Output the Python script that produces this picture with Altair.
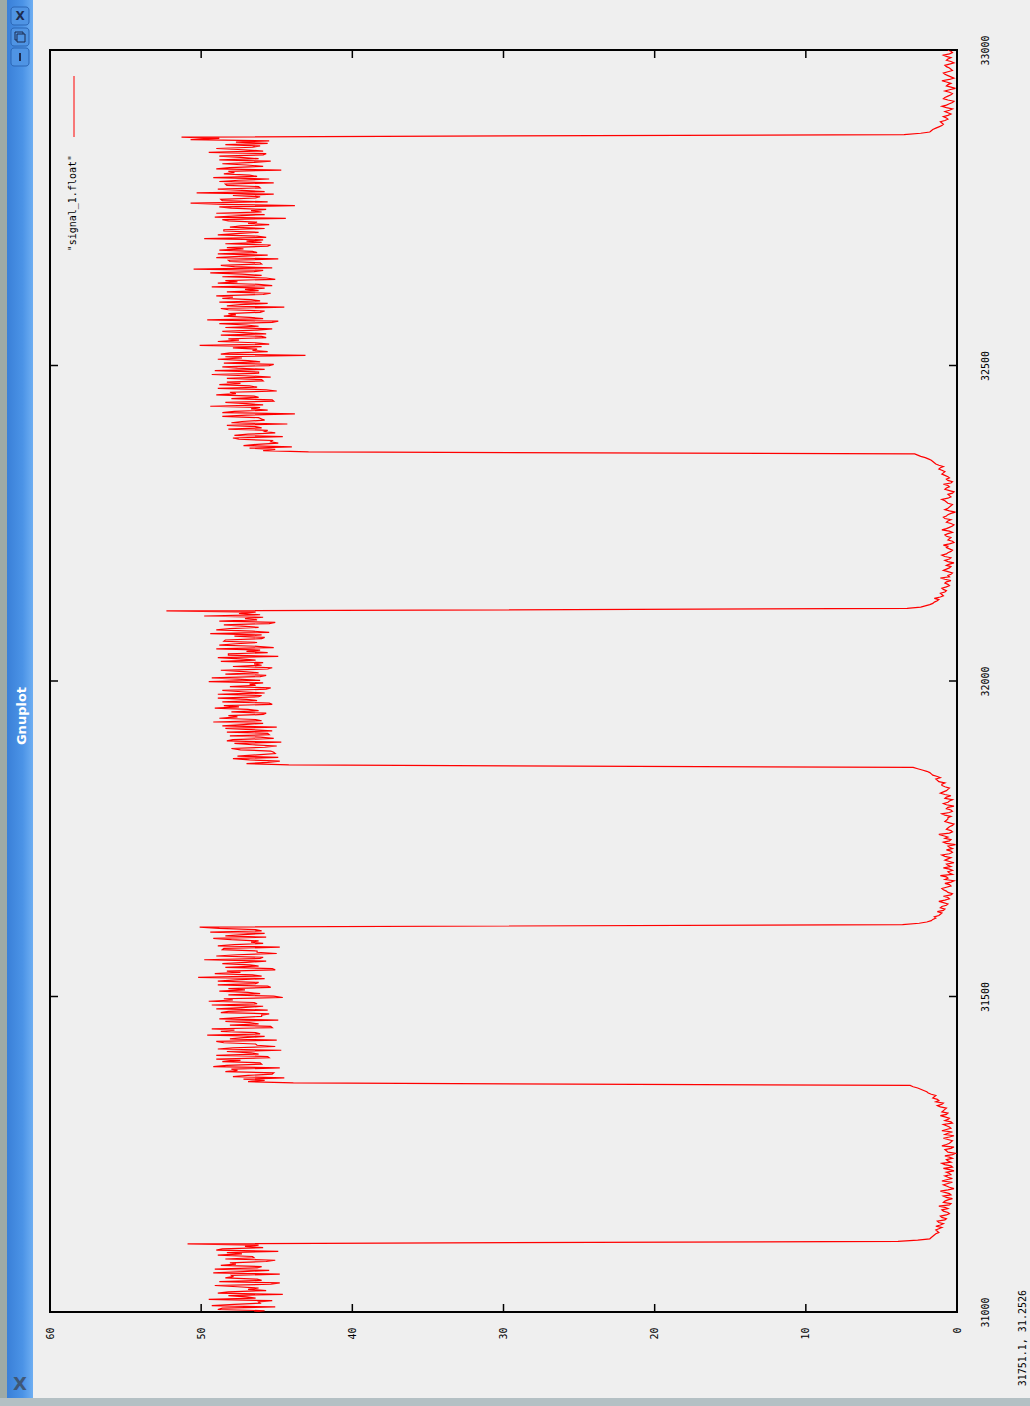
import altair as alt
import pandas as pd
import numpy as np

# ---- signal (sample index vs value) ----
seg_start = [31000, 31112, 31363, 31614, 31867, 32115, 32363, 32866]
seg_end = [31108, 31359, 31610, 31863, 32111, 32360, 32862, 33000]

# samples on even positions of each plateau
seg_a = [46.5, 48.9, 45.1, 47.8, 46.2, 49.5, 47.0, 44.6, 48.2, 46.9, 47.6, 45.4, 48.8, 46.3,
         47.9, 44.8, 47.2, 49.1, 46.0, 47.7, 45.7, 48.4, 46.6, 47.3, 44.9, 48.6, 47.1, 50.9]
seg_b = [3.9, 1.8, 1.6, 1.4, 1.3, 1.2, 1.4, 0.9, 1.3, 0.7, 1.1, 0.5, 0.9, 0.6, 1.2, 0.4, 0.8,
         0.3, 0.9, 0.5, 1.1, 0.2, 0.7, 0.6, 1.0, 0.3, 0.8, 0.5, 0.2, 0.9, 0.4, 1.0, 0.6, 0.3,
         0.8, 0.1, 0.7, 0.4, 1.0, 0.5, 0.3, 0.9, 0.2, 0.6, 1.0, 0.4, 0.7, 0.3, 0.8, 0.5, 1.1,
         0.6, 0.9, 0.7, 1.3, 0.9, 1.2, 1.6, 1.4, 1.9, 2.2, 2.6, 3.1]
seg_c = [43.9, 45.8, 44.5, 46.9, 45.2, 47.6, 44.8, 48.3, 46.1, 47.4, 45.5, 49.0, 46.7, 44.7,
         47.9, 46.3, 48.5, 45.0, 47.2, 49.6, 46.4, 47.8, 45.3, 48.1, 46.8, 44.9, 47.5, 46.0,
         48.7, 45.6, 47.3, 49.3, 46.5, 47.9, 44.6, 48.2, 46.9, 47.1, 45.4, 48.9, 46.2, 47.7,
         50.2, 46.6, 47.4, 45.1, 48.4, 46.8, 47.0, 49.8, 45.9, 47.6, 46.3, 48.6, 44.8, 47.8,
         46.7, 48.0, 45.7, 47.2, 49.4, 46.4, 50.1]
seg_d = [3.6, 2.0, 1.6, 1.5, 1.1, 1.3, 0.8, 1.0, 0.6, 1.2, 0.5, 0.9, 0.3, 0.7, 1.0, 0.4, 0.8,
         0.2, 0.6, 1.1, 0.5, 0.3, 0.9, 0.6, 0.2, 0.8, 0.4, 1.0, 0.3, 0.7, 0.5, 0.1, 0.9, 0.4,
         0.6, 1.2, 0.3, 0.7, 0.5, 0.2, 0.8, 0.6, 0.4, 1.0, 0.3, 0.7, 0.2, 0.9, 0.5, 0.8, 0.4,
         1.1, 0.7, 0.5, 1.0, 0.8, 1.3, 1.1, 1.6, 1.8, 2.3, 2.9]
seg_e = [44.2, 45.6, 46.8, 44.9, 46.3, 45.2, 47.4, 45.8, 46.6, 44.7, 47.9, 46.1, 45.5, 48.3,
         46.7, 45.0, 47.2, 49.2, 46.4, 47.6, 45.9, 48.0, 46.9, 47.5, 45.3, 48.6, 47.0, 46.2,
         48.9, 47.3, 45.7, 48.1, 46.8, 49.5, 47.6, 46.1, 48.4, 47.2, 45.6, 47.9, 46.5, 48.7,
         47.4, 44.9, 48.2, 47.0, 49.0, 46.3, 47.7, 48.5, 46.0, 47.8, 49.4, 46.6, 48.1, 47.3,
         45.5, 48.8, 47.1, 49.8, 47.5, 52.3]
seg_f = [3.3, 2.1, 1.6, 1.3, 1.5, 0.9, 1.1, 0.7, 1.0, 0.5, 0.8, 0.4, 1.1, 0.6, 0.3, 0.9, 0.5,
         0.7, 0.2, 0.8, 0.4, 1.0, 0.6, 0.3, 0.7, 0.9, 0.2, 0.6, 0.4, 0.8, 0.3, 1.0, 0.5, 0.2,
         0.7, 0.4, 0.9, 0.6, 0.1, 0.8, 0.5, 0.3, 0.7, 1.0, 0.4, 0.6, 0.2, 0.8, 0.5, 0.9, 0.3,
         0.7, 0.6, 1.0, 0.8, 1.2, 0.9, 1.4, 1.6, 1.9, 2.4, 2.8]
seg_g = [42.9, 45.1, 44.0, 46.3, 45.4, 47.5, 44.6, 46.9, 45.8, 48.2, 46.4, 44.3, 47.3, 46.0,
         48.6, 43.8, 47.8, 46.7, 49.4, 47.0, 45.2, 48.0, 46.5, 47.7, 45.0, 48.9, 46.8, 47.4,
         45.9, 48.3, 47.1, 46.2, 49.1, 47.6, 45.5, 48.5, 46.9, 47.3, 43.1, 48.1, 46.6, 47.9,
         50.1, 46.4, 47.5, 45.7, 48.7, 47.2, 46.3, 48.4, 47.0, 45.3, 49.6, 46.8, 47.7, 46.1,
         48.2, 44.5, 47.4, 48.8, 46.7, 47.9, 45.9, 48.3, 47.1, 49.3, 46.2, 47.6, 45.1, 48.6,
         47.3, 46.5, 50.5, 47.8, 46.0, 48.1, 44.9, 47.5, 48.9, 46.6, 47.2, 45.6, 48.4, 47.0,
         49.8, 46.3, 47.7, 48.5, 45.8, 47.4, 46.9, 48.2, 44.4, 47.6, 49.0, 46.7, 48.0, 43.8,
         50.7, 48.6, 46.4, 47.9, 50.3, 47.3, 46.1, 48.3, 45.2, 47.5, 49.2, 46.8, 47.8, 44.7,
         48.1, 47.0, 46.5, 48.8, 47.4, 45.9, 49.5, 47.2, 46.6, 48.4, 47.7, 50.7, 51.3]
seg_h = [3.5, 1.8, 1.6, 1.2, 0.9, 1.1, 0.6, 0.9, 0.4, 0.8, 0.3, 1.0, 0.5, 0.2, 0.9, 0.6, 0.3,
         0.8, 0.1, 0.7, 0.4, 1.0, 0.2, 0.6, 0.9, 0.3, 0.5, 0.8, 0.2, 0.7, 0.4, 0.9, 0.3, 0.6]

# samples on odd positions (between the ones above)
seg_a2 = [45.8, 48.6, 49.3, 46.1, 45.3, 46.4, 48.2, 48.9, 45.7, 46.2, 49.1, 44.8, 46.0, 48.4,
          48.0, 49.2, 45.5, 46.3, 48.7, 48.1, 45.1, 46.5, 48.9, 48.3, 49.0, 45.9, 46.2]
seg_b2 = [2.6, 1.7, 1.5, 1.2, 1.4, 1.0, 1.1, 1.2, 0.8, 1.0, 0.7, 0.6, 1.0, 0.8, 0.5, 0.9, 0.6,
          0.7, 0.4, 0.8, 0.6, 0.5, 0.9, 0.3, 0.7, 0.6, 0.4, 0.7, 0.5, 0.3, 0.8, 0.4, 0.7, 0.5,
          0.3, 0.6, 0.8, 0.2, 0.7, 0.4, 0.6, 0.5, 0.8, 0.3, 0.7, 0.5, 0.9, 0.4, 0.6, 0.8, 0.7,
          1.0, 0.8, 1.1, 1.0, 1.4, 1.3, 1.5, 1.7, 2.0, 2.4, 2.9]
seg_c2 = [46.9, 47.2, 47.9, 45.3, 48.4, 48.0, 49.2, 46.0, 48.6, 49.0, 45.6, 46.2, 48.3, 48.9,
          45.1, 46.4, 49.0, 48.1, 45.8, 46.1, 48.7, 49.3, 45.4, 46.2, 48.4, 48.8, 46.0, 45.5,
          48.2, 49.0, 45.9, 46.3, 49.5, 48.5, 45.2, 46.1, 48.8, 48.2, 45.6, 46.4, 48.9, 45.8,
          46.0, 49.1, 48.3, 45.3, 46.2, 48.6, 45.7, 46.1, 49.0, 45.0, 46.3, 48.5, 48.9, 45.9,
          46.2, 49.2, 48.4, 45.8, 46.0, 48.8]
seg_d2 = [2.5, 1.7, 1.4, 1.2, 1.0, 0.9, 1.1, 0.7, 0.9, 0.8, 0.6, 0.4, 0.6, 0.9, 0.7, 0.5, 0.4,
          0.8, 0.7, 0.3, 0.6, 0.5, 0.4, 0.7, 0.5, 0.6, 0.8, 0.5, 0.4, 0.3, 0.6, 0.7, 0.5, 0.8,
          0.9, 0.5, 0.4, 0.6, 0.3, 0.5, 0.7, 0.6, 0.8, 0.5, 0.4, 0.6, 0.7, 0.6, 0.3, 0.7, 0.8,
          0.9, 0.6, 0.8, 1.0, 1.2, 1.4, 1.3, 1.7, 2.0, 2.6]
seg_e2 = [47.0, 44.8, 47.9, 47.6, 45.1, 45.4, 48.0, 45.0, 47.8, 48.3, 45.2, 48.1, 45.6, 45.3,
          48.4, 48.6, 45.9, 46.0, 48.8, 48.2, 45.7, 46.2, 49.1, 48.5, 45.5, 46.3, 48.9, 46.0,
          45.8, 48.6, 45.4, 46.4, 45.9, 46.1, 49.3, 45.7, 46.2, 48.7, 45.3, 46.0, 45.9, 46.4,
          48.9, 48.2, 45.6, 46.1, 45.2, 48.8, 46.3, 48.4, 45.8, 46.0, 45.5, 49.0, 46.2, 48.5,
          45.1, 46.3, 45.9, 46.1, 46.4]
seg_f2 = [2.4, 1.8, 1.5, 1.2, 1.1, 1.0, 0.8, 0.9, 0.7, 0.6, 0.7, 0.8, 0.5, 0.4, 0.6, 0.7, 0.4,
          0.5, 0.6, 0.5, 0.8, 0.7, 0.4, 0.5, 0.6, 0.5, 0.3, 0.5, 0.7, 0.6, 0.5, 0.7, 0.3, 0.4,
          0.6, 0.8, 0.7, 0.4, 0.5, 0.6, 0.4, 0.6, 0.8, 0.6, 0.5, 0.3, 0.5, 0.7, 0.6, 0.4, 0.6,
          0.5, 0.8, 0.9, 1.0, 1.1, 1.2, 1.5, 1.7, 2.1, 2.6]
seg_g2 = [45.9, 46.8, 47.2, 44.9, 45.3, 47.9, 47.8, 45.1, 45.6, 46.0, 48.3, 48.0, 45.8, 46.2,
          47.0, 48.6, 45.6, 46.1, 45.9, 48.4, 45.3, 46.2, 49.0, 48.1, 45.7, 46.3, 48.8, 48.3,
          46.0, 45.4, 49.3, 46.2, 45.8, 48.6, 45.2, 46.1, 48.9, 48.4, 48.7, 45.6, 46.3, 46.0,
          45.5, 48.9, 48.2, 46.0, 45.7, 48.6, 45.3, 46.2, 48.8, 44.9, 45.9, 48.5, 48.2, 45.8,
          48.7, 48.3, 45.6, 46.1, 48.6, 49.0, 45.4, 46.2, 45.8, 45.3, 48.9, 48.4, 45.7, 46.0,
          49.4, 45.9, 45.3, 48.7, 46.1, 48.2, 49.0, 45.6, 46.3, 48.8, 48.3, 45.4, 46.0, 45.9,
          45.7, 48.9, 46.2, 48.5, 48.1, 45.5, 46.3, 48.6, 49.1, 45.8, 46.0, 45.7, 48.8, 48.5,
          45.6, 48.7, 46.1, 45.2, 45.8, 48.9, 46.2, 48.4, 48.8, 45.5, 46.3, 48.5, 48.2, 49.0,
          45.9, 48.6, 45.4, 46.2, 48.8, 45.7, 45.9, 49.0, 46.1, 45.6, 45.5, 48.8]
seg_h2 = [2.4, 1.7, 1.4, 1.0, 1.0, 0.8, 0.7, 0.6, 0.6, 0.5, 0.7, 0.7, 0.3, 0.6, 0.8, 0.4, 0.5,
          0.5, 0.4, 0.6, 0.7, 0.5, 0.4, 0.8, 0.6, 0.4, 0.7, 0.5, 0.4, 0.6, 0.7, 0.5, 0.4]

seg_even = [seg_a, seg_b, seg_c, seg_d, seg_e, seg_f, seg_g, seg_h]
seg_odd = [seg_a2, seg_b2, seg_c2, seg_d2, seg_e2, seg_f2, seg_g2, seg_h2]

value_ticks = [0, 10, 20, 30, 40, 50, 60]
index_ticks = [31000, 31500, 32000, 32500, 33000]
legend_label = '"signal_1.float"'
status_label = "31751.1,  31.2526"
window_title = "Gnuplot"


def weave(a, b):
    out = []
    for i, v in enumerate(a):
        out.append(v)
        if i < len(b) and i < len(a) - 1:
            out.append(b[i])
    return out


rows = []
for s, e, ev, od in zip(seg_start, seg_end, seg_even, seg_odd):
    vals = weave(ev, od)
    idx = np.linspace(s, e, len(vals))
    for i, v in zip(idx, vals):
        rows.append({"idx": float(i), "val": float(v)})
df = pd.DataFrame(rows)

W, H = 907, 1262
PAD = {"left": 50, "top": 50, "right": 73, "bottom": 94}

xscale = alt.Scale(domain=[0, 60], reverse=True, nice=False, zero=False)
yscale = alt.Scale(domain=[31000, 33000], nice=False, zero=False)

one = pd.DataFrame({"k": [0]})


def deco_rect(x, x2, y, y2, **kw):
    return alt.Chart(one).mark_rect(**kw).encode(
        x=alt.value(x), x2=alt.value(x2), y=alt.value(y), y2=alt.value(y2))


def deco_text(x, y, txt, **kw):
    return alt.Chart(one).mark_text(text=txt, **kw).encode(x=alt.value(x), y=alt.value(y))


# window chrome (absolute page coordinates minus 50 px padding)
grad = alt.LinearGradient(
    gradient="linear", x1=0, x2=1, y1=0, y2=0,
    stops=[alt.GradientStop(color="#3a80d8", offset=0),
           alt.GradientStop(color="#4b93e6", offset=0.6),
           alt.GradientStop(color="#6eaef2", offset=1)])
chrome = [
    deco_rect(-50, -43, -50, 1356, color="#9eaaa6"),
    deco_rect(-43, -17, -50, 1348, fill=grad),
    deco_rect(-50, 980, 1348, 1356, color="#b4c0c4"),
    deco_rect(-39, -21, -43, -25, fill="#4f94e4", stroke="#2c66b5", strokeWidth=1, cornerRadius=3),
    deco_rect(-39, -21, -22, -4, fill="#4f94e4", stroke="#2c66b5", strokeWidth=1, cornerRadius=3),
    deco_rect(-39, -21, -2, 16, fill="#4f94e4", stroke="#2c66b5", strokeWidth=1, cornerRadius=3),
    deco_text(-30, -34, "X", font="DejaVu Sans", fontSize=12, fontWeight="bold", color="#1d2b4f"),
    deco_rect(-35, -27, -18, -10, fill="#4f94e4", stroke="#1d2b4f", strokeWidth=1),
    deco_rect(-33, -25, -16, -8, fill="#4f94e4", stroke="#1d2b4f", strokeWidth=1),
    deco_rect(-31, -29, 3, 11, color="#1d2b4f"),
    deco_text(-28, 666, window_title, font="DejaVu Sans", fontSize=13, fontWeight="bold",
              color="white", angle=270, align="center", baseline="middle"),
    deco_text(-30, 1335, "X", font="DejaVu Sans", fontSize=18, fontWeight="bold",
              color="#3d4a5c", opacity=0.8),
]

signal = alt.Chart(df).mark_line(color="#ff0000", strokeWidth=1.2, clip=True).encode(
    x=alt.X("val:Q", scale=xscale,
            axis=alt.Axis(values=value_ticks, orient="bottom", title=None, grid=False,
                          ticks=False, domain=False, labelAngle=270, labelAlign="right",
                          labelBaseline="middle", labelPadding=15, labelFlush=False,
                          labelOverlap=False, labelFont="DejaVu Sans Mono", labelFontSize=10,
                          labelColor="black", format="d")),
    y=alt.Y("idx:Q", scale=yscale,
            axis=alt.Axis(values=index_ticks, orient="right", title=None, grid=False,
                          ticks=False, domain=False, labelAngle=270, labelAlign="center",
                          labelBaseline="middle", labelPadding=28, labelFlush=False,
                          labelOverlap=False, labelFont="DejaVu Sans Mono", labelFontSize=10,
                          labelColor="black", format="d")),
    order=alt.Order("idx:Q"),
)

vt = pd.DataFrame({"v": value_ticks})
it = pd.DataFrame({"i": index_ticks})
tick_style = dict(color="black", strokeWidth=1.5)
ticks = [
    alt.Chart(vt).mark_rule(**tick_style).encode(
        x=alt.X("v:Q", scale=xscale), y=alt.value(H), y2=alt.value(H - 8)),
    alt.Chart(vt).mark_rule(**tick_style).encode(
        x=alt.X("v:Q", scale=xscale), y=alt.value(0), y2=alt.value(8)),
    alt.Chart(it).mark_rule(**tick_style).encode(
        y=alt.Y("i:Q", scale=yscale), x=alt.value(0), x2=alt.value(8)),
    alt.Chart(it).mark_rule(**tick_style).encode(
        y=alt.Y("i:Q", scale=yscale), x=alt.value(W), x2=alt.value(W - 8)),
]

legend = [
    alt.Chart(one).mark_rule(color="#ff0000", strokeWidth=1).encode(
        x=alt.value(24), y=alt.value(26), y2=alt.value(87)),
    deco_text(23, 105, legend_label, font="DejaVu Sans Mono", fontSize=10, color="black",
              angle=270, align="right", baseline="middle"),
    deco_text(973, 1240, status_label, font="DejaVu Sans Mono", fontSize=10, color="black",
              angle=270, align="right", baseline="middle"),
]

chart = alt.layer(*chrome, signal, *ticks, *legend).properties(
    width=W, height=H, padding=PAD, autosize=alt.AutoSizeParams(type="none"),
    background="#efefef",
).resolve_scale(x="shared", y="shared").configure_view(
    stroke="black", strokeWidth=2, fill="#efefef")

chart.save("out.html", embed_options={"renderer": "svg", "actions": False})
